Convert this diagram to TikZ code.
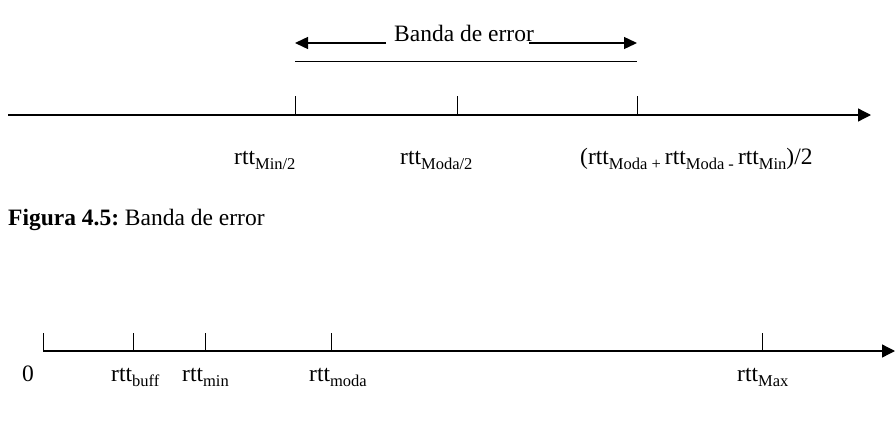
\documentclass[tikz,border=0pt]{standalone}
\usepackage{fontspec}
\setmainfont{Liberation Serif}
\usetikzlibrary{arrows.meta}
\newcommand\sbx[1]{\raisebox{-5pt}{\fontsize{16.5}{16.5}\selectfont #1}}
\begin{document}
\begin{tikzpicture}[x=1pt,y=-1pt,
  axis/.style={line width=1.3pt,-{Triangle[length=13pt,width=13pt]}},
  bandarrow/.style={line width=1.4pt,-{Triangle[length=13pt,width=12pt]}},
  tick/.style={line width=0.9pt},
  lbl/.style={inner sep=0pt,anchor=base west,font=\fontsize{23.5}{26}\selectfont}]
\useasboundingbox (0,0) rectangle (895,426);
% ---------- top axis ----------
\coordinate (a0) at (8,115);
\coordinate (a1) at (871,115);
\draw[axis] (a0) -- (a1);
\coordinate (t1b) at (295,115); \coordinate (t1t) at (295,96);
\coordinate (t2b) at (457,115); \coordinate (t2t) at (457,96);
\coordinate (t3b) at (637,115); \coordinate (t3t) at (637,96);
\draw[tick] (t1b) -- (t1t);
\draw[tick] (t2b) -- (t2t);
\draw[tick] (t3b) -- (t3t);
% band
\coordinate (bl) at (295,61.5); \coordinate (br) at (637,61.5);
\draw[tick] (bl) -- (br);
\coordinate (la0) at (386,43); \coordinate (la1) at (295,43);
\coordinate (ra0) at (529,43); \coordinate (ra1) at (637,43);
\draw[bandarrow] (la0) -- (la1);
\draw[bandarrow] (ra0) -- (ra1);
\node[lbl] (band) at (394,41) {Banda de error};
% top labels
\node[lbl] (l1) at (234,164) {rtt\sbx{Min/2}};
\node[lbl] (l2) at (400,164) {rtt\sbx{Moda/2}};
\node[lbl] (l3) at (580,164) {(rtt\sbx{Moda + }rtt\sbx{Moda - }rtt\sbx{Min})/2};
% caption
\node[lbl] (cap) at (8,225) {\textbf{Figura 4.5:}\hspace{-2pt} Banda de error};
% ---------- bottom axis ----------
\coordinate (b0) at (43,351);
\coordinate (b1) at (895,351);
\draw[axis] (b0) -- (b1);
\foreach \n/\x in {s0/43,s1/133,s2/205,s3/331,s4/762}{
  \coordinate (\n b) at (\x,351); \coordinate (\n t) at (\x,333);
  \draw[tick] (\n b) -- (\n t);
}
\node[lbl] (z0) at (22,381) {0};
\node[lbl] (zb) at (111,381) {rtt\sbx{buff}};
\node[lbl] (zm) at (182,381) {rtt\sbx{min}};
\node[lbl] (zd) at (309,381) {rtt\sbx{moda}};
\node[lbl] (zx) at (737,381) {rtt\sbx{Max}};
\end{tikzpicture}
\end{document}
